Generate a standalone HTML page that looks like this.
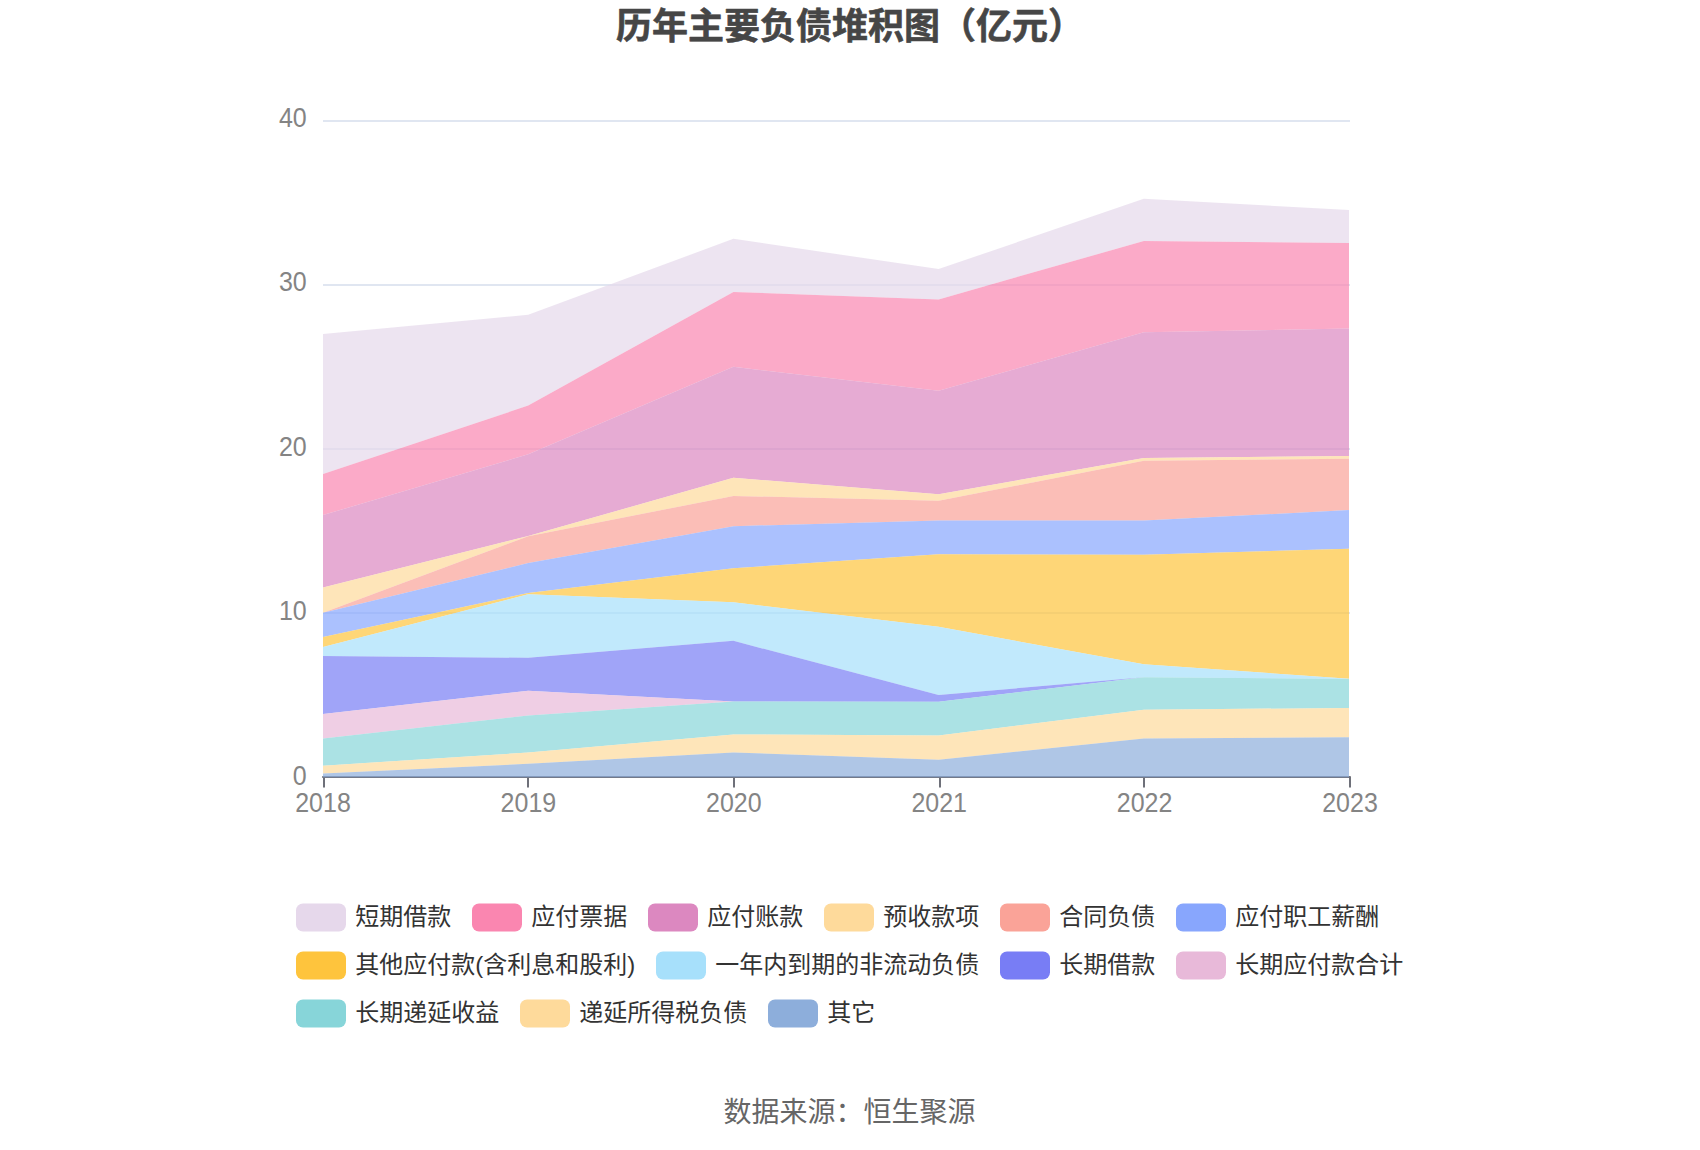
<!DOCTYPE html>
<html lang="zh-CN">
<head>
<meta charset="utf-8">
<title>历年主要负债堆积图（亿元）</title>
<style>
html,body{margin:0;padding:0;background:#fff;}
body{width:1700px;height:1150px;overflow:hidden;}
svg{display:block;}
text{font-family:"Liberation Sans","Noto Sans CJK SC",sans-serif;}
.title{font-size:36px;font-weight:bold;fill:#464646;stroke:#464646;stroke-width:0.6px;stroke-linejoin:round;}
.ax{font-size:25px;fill:#848484;}
.lg{font-size:24px;fill:#333333;}
.src{font-size:28px;fill:#666666;}
</style>
</head>
<body>
<svg width="1700" height="1150" viewBox="0 0 1700 1150">
<rect x="0" y="0" width="1700" height="1150" fill="#ffffff"/>
<text class="title" x="850" y="39.2" text-anchor="middle">历年主要负债堆积图（亿元）</text>
<g fill="#E0E6F1">
<rect x="323" y="120" width="1027" height="2"/>
<rect x="323" y="284" width="1027" height="2"/>
<rect x="323" y="448" width="1027" height="2"/>
<rect x="323" y="612" width="1027" height="2"/>
</g>
<g class="ax" text-anchor="end">
<text transform="translate(306.7,126.6) scale(1.0,1.1)">40</text>
<text transform="translate(306.7,291.4) scale(1.0,1.1)">30</text>
<text transform="translate(306.7,455.5) scale(1.0,1.1)">20</text>
<text transform="translate(306.7,619.5) scale(1.0,1.1)">10</text>
<text transform="translate(306.7,784.5) scale(1.0,1.1)">0</text>
</g>
<g fill="#6E7079">
<rect x="322" y="776" width="1029" height="2" rx="1"/>
<rect x="323" y="777" width="2" height="10.5"/>
<rect x="527" y="777" width="2" height="10.5"/>
<rect x="733" y="777" width="2" height="10.5"/>
<rect x="939" y="777" width="2" height="10.5"/>
<rect x="1143" y="777" width="2" height="10.5"/>
<rect x="1349" y="777" width="2" height="10.5"/>
</g>
<g fill-opacity="0.7" stroke="none">
<polygon fill="#E6D8EB" points="323.0,334.1 528.2,314.8 733.4,238.8 938.6,269.1 1143.8,198.8 1349.0,210.0 1349.0,242.9 1143.8,241.0 938.6,299.4 733.4,292.0 528.2,405.6 323.0,473.9"/>
<polygon fill="#FA86B0" points="323.0,473.9 528.2,405.6 733.4,292.0 938.6,299.4 1143.8,241.0 1349.0,242.9 1349.0,328.6 1143.8,332.2 938.6,390.8 733.4,366.8 528.2,454.3 323.0,515.1"/>
<polygon fill="#DC88C0" points="323.0,515.1 528.2,454.3 733.4,366.8 938.6,390.8 1143.8,332.2 1349.0,328.6 1349.0,456.1 1143.8,458.0 938.6,494.3 733.4,477.8 528.2,536.0 323.0,587.5"/>
<polygon fill="#FEDA9B" points="323.0,587.5 528.2,536.0 733.4,477.8 938.6,494.3 1143.8,458.0 1349.0,456.1 1349.0,458.7 1143.8,460.8 938.6,500.8 733.4,495.9 528.2,536.3 323.0,612.8"/>
<polygon fill="#FAA398" points="323.0,612.8 528.2,536.3 733.4,495.9 938.6,500.8 1143.8,460.8 1349.0,458.7 1349.0,510.1 1143.8,520.6 938.6,520.5 733.4,526.2 528.2,563.1 323.0,612.8"/>
<polygon fill="#88A6FD" points="323.0,612.8 528.2,563.1 733.4,526.2 938.6,520.5 1143.8,520.6 1349.0,510.1 1349.0,548.7 1143.8,554.8 938.6,554.3 733.4,568.3 528.2,593.0 323.0,637.0"/>
<polygon fill="#FEC43D" points="323.0,637.0 528.2,593.0 733.4,568.3 938.6,554.3 1143.8,554.8 1349.0,548.7 1349.0,678.7 1143.8,664.3 938.6,626.8 733.4,602.3 528.2,594.3 323.0,646.9"/>
<polygon fill="#A7E0FB" points="323.0,646.9 528.2,594.3 733.4,602.3 938.6,626.8 1143.8,664.3 1349.0,678.7 1349.0,678.9 1143.8,677.3 938.6,695.0 733.4,640.8 528.2,657.8 323.0,655.9"/>
<polygon fill="#787DF5" points="323.0,655.9 528.2,657.8 733.4,640.8 938.6,695.0 1143.8,677.3 1349.0,678.9 1349.0,678.9 1143.8,677.3 938.6,701.8 733.4,701.5 528.2,690.7 323.0,714.0"/>
<polygon fill="#E8B9D9" points="323.0,714.0 528.2,690.7 733.4,701.5 938.6,701.8 1143.8,677.3 1349.0,678.9 1349.0,678.9 1143.8,677.3 938.6,701.8 733.4,701.5 528.2,715.4 323.0,738.6"/>
<polygon fill="#87D5D9" points="323.0,738.6 528.2,715.4 733.4,701.5 938.6,701.8 1143.8,677.3 1349.0,678.9 1349.0,707.9 1143.8,709.8 938.6,735.4 733.4,734.4 528.2,752.5 323.0,765.7"/>
<polygon fill="#FEDA9B" points="323.0,765.7 528.2,752.5 733.4,734.4 938.6,735.4 1143.8,709.8 1349.0,707.9 1349.0,737.2 1143.8,738.4 938.6,759.7 733.4,752.5 528.2,763.8 323.0,773.6"/>
<polygon fill="#8DAEDB" points="323.0,773.6 528.2,763.8 733.4,752.5 938.6,759.7 1143.8,738.4 1349.0,737.2 1349.0,777.3 1143.8,777.3 938.6,777.3 733.4,777.3 528.2,777.3 323.0,777.3"/>
</g>
<g class="ax" text-anchor="middle">
<text transform="translate(323.0,812) scale(1.0,1.1)">2018</text>
<text transform="translate(528.4,812) scale(1.0,1.1)">2019</text>
<text transform="translate(733.8,812) scale(1.0,1.1)">2020</text>
<text transform="translate(939.2,812) scale(1.0,1.1)">2021</text>
<text transform="translate(1144.6,812) scale(1.0,1.1)">2022</text>
<text transform="translate(1350.0,812) scale(1.0,1.1)">2023</text>
</g>
<g>
<rect x="296" y="903.5" width="50" height="28" rx="7" ry="7" fill="#E6D8EB"/>
<text class="lg" x="355.3" y="925">短期借款</text>
<rect x="472" y="903.5" width="50" height="28" rx="7" ry="7" fill="#FA86B0"/>
<text class="lg" x="531.3" y="925">应付票据</text>
<rect x="648" y="903.5" width="50" height="28" rx="7" ry="7" fill="#DC88C0"/>
<text class="lg" x="707.3" y="925">应付账款</text>
<rect x="824" y="903.5" width="50" height="28" rx="7" ry="7" fill="#FEDA9B"/>
<text class="lg" x="883.3" y="925">预收款项</text>
<rect x="1000" y="903.5" width="50" height="28" rx="7" ry="7" fill="#FAA398"/>
<text class="lg" x="1059.3" y="925">合同负债</text>
<rect x="1176" y="903.5" width="50" height="28" rx="7" ry="7" fill="#88A6FD"/>
<text class="lg" x="1235.3" y="925">应付职工薪酬</text>
<rect x="296" y="951.5" width="50" height="28" rx="7" ry="7" fill="#FEC43D"/>
<text class="lg" x="355.3" y="973">其他应付款(含利息和股利)</text>
<rect x="656" y="951.5" width="50" height="28" rx="7" ry="7" fill="#A7E0FB"/>
<text class="lg" x="715.3" y="973">一年内到期的非流动负债</text>
<rect x="1000" y="951.5" width="50" height="28" rx="7" ry="7" fill="#787DF5"/>
<text class="lg" x="1059.3" y="973">长期借款</text>
<rect x="1176" y="951.5" width="50" height="28" rx="7" ry="7" fill="#E8B9D9"/>
<text class="lg" x="1235.3" y="973">长期应付款合计</text>
<rect x="296" y="999.5" width="50" height="28" rx="7" ry="7" fill="#87D5D9"/>
<text class="lg" x="355.3" y="1021">长期递延收益</text>
<rect x="520" y="999.5" width="50" height="28" rx="7" ry="7" fill="#FEDA9B"/>
<text class="lg" x="579.3" y="1021">递延所得税负债</text>
<rect x="768" y="999.5" width="50" height="28" rx="7" ry="7" fill="#8DAEDB"/>
<text class="lg" x="827.3" y="1021">其它</text>
</g>
<text class="src" x="849.5" y="1122.1" text-anchor="middle">数据来源：恒生聚源</text>
</svg>
</body>
</html>
